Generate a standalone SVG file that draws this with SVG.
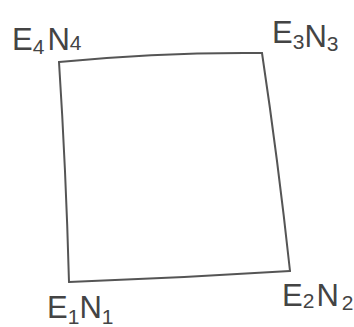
<svg xmlns="http://www.w3.org/2000/svg" width="354" height="327" viewBox="0 0 354 327">
<style>
.lbl{font-family:"Liberation Sans",Arial,sans-serif;font-size:31px;fill:#444;}
.sub{font-size:21px;}
.edge{fill:none;stroke:#555;stroke-width:2;stroke-linecap:round;stroke-linejoin:round;}
</style>
<rect width="354" height="327" fill="#fff"/>
<g id="connectors">
<path class="edge" d="M59,62 Q160,52 262,53"/>
<path class="edge" d="M262,53 Q278,160 290,271"/>
<path class="edge" d="M290,271 Q180,278 69,282"/>
<path class="edge" d="M69,282 Q66,170 59,62"/>
</g>
<g id="n4"><text class="lbl" x="12" y="50">E<tspan class="sub" dy="4">4</tspan><tspan dy="-4" dx="3">N</tspan><tspan class="sub" dy="0">4</tspan></text></g>
<g id="n3"><text class="lbl" x="272" y="43">E<tspan class="sub" dy="6">3</tspan><tspan dy="-2">N</tspan><tspan class="sub" dy="4">3</tspan></text></g>
<g id="n1"><text class="lbl" x="47" y="318">E<tspan class="sub" dy="6">1</tspan><tspan dy="-6">N</tspan><tspan class="sub" dy="6">1</tspan></text></g>
<g id="n2"><text class="lbl" x="282" y="306">E<tspan class="sub" dy="2">2</tspan><tspan dy="-2" dx="2">N</tspan><tspan class="sub" dy="4" dx="3">2</tspan></text></g>
</svg>
